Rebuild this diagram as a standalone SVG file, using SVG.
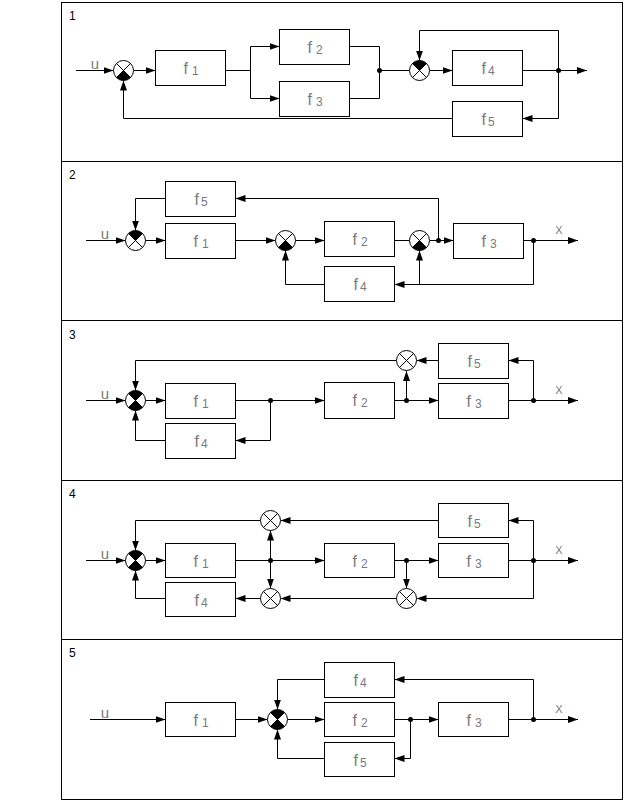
<svg xmlns="http://www.w3.org/2000/svg" width="624" height="801" viewBox="0 0 624 801">
<style>
.box{fill:#fff;stroke:#000;stroke-width:1}
.ln{fill:none;stroke:#000;stroke-width:1}
.ar{fill:none;stroke:#000;stroke-width:1;marker-end:url(#ah)}
.sj{fill:#fff;stroke:#000;stroke-width:1}
.x{stroke:#000;stroke-width:1}
.blk{fill:#000}
.dot{fill:#000}
.lbl{font-family:"Liberation Sans",Arial,sans-serif;font-size:16px;fill:#7a7a7a}
.sub{font-size:12px}
.io{font-family:"Liberation Sans",Arial,sans-serif;font-size:15px;fill:#7a7a7a}
.xo{font-family:"Liberation Sans",Arial,sans-serif;font-size:11px;fill:#7a7a7a}
.num{font-family:"Liberation Sans",Arial,sans-serif;font-size:12px;fill:#000}
.frame{fill:none;stroke:#000;stroke-width:1}
</style>
<defs>
<marker id="ah" markerUnits="userSpaceOnUse" markerWidth="11" markerHeight="8" refX="10" refY="3.5" orient="auto">
<path d="M0,0 L10,3.5 L0,7 z" fill="#000"/>
</marker>
<g id="sum">
<circle class="sj" cx="0" cy="0" r="10"/>
<line class="x" x1="-7.07" y1="-7.07" x2="7.07" y2="7.07"/>
<line class="x" x1="-7.07" y1="7.07" x2="7.07" y2="-7.07"/>
</g>
<path id="qtop" class="blk" d="M0,0 L-7.07,-7.07 A10,10 0 0 1 7.07,-7.07 Z"/>
<path id="qbot" class="blk" d="M0,0 L7.07,7.07 A10,10 0 0 1 -7.07,7.07 Z"/>
</defs>
<rect width="624" height="801" fill="#fff"/>
<g id="frame">
<rect class="frame" x="61.5" y="2.5" width="561" height="797"/>
<line class="ln" x1="61.5" y1="161.5" x2="622.5" y2="161.5"/>
<line class="ln" x1="61.5" y1="320.5" x2="622.5" y2="320.5"/>
<line class="ln" x1="61.5" y1="480.5" x2="622.5" y2="480.5"/>
<line class="ln" x1="61.5" y1="639.5" x2="622.5" y2="639.5"/>
<text class="num" x="69" y="20">1</text>
<text class="num" x="69" y="179">2</text>
<text class="num" x="69" y="339">3</text>
<text class="num" x="69" y="498">4</text>
<text class="num" x="69" y="657">5</text>
</g>

<!-- Panel 1 -->
<g id="p1-connectors">
<polyline class="ar" points="76,70.5 113.5,70.5"/>
<polyline class="ar" points="133.5,70.5 155.5,70.5"/>
<polyline class="ln" points="225.5,70.5 250.5,70.5"/>
<polyline class="ln" points="250.5,46.5 250.5,98.5"/>
<polyline class="ar" points="250.5,46.5 279.5,46.5"/>
<polyline class="ar" points="250.5,98.5 279.5,98.5"/>
<polyline class="ln" points="349.5,46.5 379.5,46.5 379.5,98.5 349.5,98.5"/>
<polyline class="ln" points="379.5,70.5 409.5,70.5"/>
<polyline class="ar" points="429.5,70.5 452.5,70.5"/>
<polyline class="ar" points="558.5,70.5 558.5,30.5 419.5,30.5 419.5,60.5"/>
<polyline class="ar" points="522.5,70.5 587,70.5"/>
<polyline class="ar" points="558.5,70.5 558.5,118.5 522.5,118.5"/>
<polyline class="ar" points="452.5,118.5 123.5,118.5 123.5,80.5"/>
<circle class="dot" cx="379.5" cy="70.5" r="2.5"/>
<circle class="dot" cx="558.5" cy="70.5" r="2.5"/>
<text class="io" x="95" y="69" text-anchor="middle">u</text>
</g>
<g id="p1-s1" transform="translate(123.5,70.5)"><use href="#sum"/><use href="#qbot"/></g>
<g id="p1-s2" transform="translate(419.5,70.5)"><use href="#sum"/><use href="#qtop"/></g>
<g id="p1-f1"><rect class="box" x="155.5" y="50.5" width="70" height="35"/><text class="lbl" x="191" y="74" text-anchor="middle">f<tspan class="sub" dx="4" dy="1">1</tspan></text></g>
<g id="p1-f2"><rect class="box" x="279.5" y="29.5" width="70" height="35"/><text class="lbl" x="315" y="53" text-anchor="middle">f<tspan class="sub" dx="4" dy="1">2</tspan></text></g>
<g id="p1-f3"><rect class="box" x="279.5" y="81.5" width="70" height="35"/><text class="lbl" x="315" y="105" text-anchor="middle">f<tspan class="sub" dx="4" dy="1">3</tspan></text></g>
<g id="p1-f4"><rect class="box" x="452.5" y="50.5" width="70" height="35"/><text class="lbl" x="488" y="74" text-anchor="middle">f<tspan class="sub" dx="2" dy="1">4</tspan></text></g>
<g id="p1-f5"><rect class="box" x="452.5" y="101.5" width="70" height="35"/><text class="lbl" x="488" y="125" text-anchor="middle">f<tspan class="sub" dx="2" dy="1">5</tspan></text></g>

<!-- Panel 2 -->
<g id="p2-connectors">
<polyline class="ar" points="86,240.5 125.5,240.5"/>
<polyline class="ar" points="145.5,240.5 165.5,240.5"/>
<polyline class="ar" points="235.5,240.5 275.5,240.5"/>
<polyline class="ar" points="295.5,240.5 324.5,240.5"/>
<polyline class="ln" points="394.5,240.5 409.5,240.5"/>
<polyline class="ar" points="429.5,240.5 453.5,240.5"/>
<polyline class="ar" points="523.5,240.5 578,240.5"/>
<polyline class="ar" points="533.5,240.5 533.5,284.5 394.5,284.5"/>
<polyline class="ar" points="419.5,284.5 419.5,250.5"/>
<polyline class="ar" points="324.5,284.5 285.5,284.5 285.5,250.5"/>
<polyline class="ar" points="438.5,240.5 438.5,198.5 235.5,198.5"/>
<polyline class="ar" points="165.5,198.5 135.5,198.5 135.5,230.5"/>
<circle class="dot" cx="438.5" cy="240.5" r="2.5"/>
<circle class="dot" cx="533.5" cy="240.5" r="2.5"/>
<text class="io" x="105" y="239" text-anchor="middle">u</text>
<text class="xo" x="559" y="234" text-anchor="middle">X</text>
</g>
<g id="p2-s1" transform="translate(135.5,240.5)"><use href="#sum"/><use href="#qtop"/></g>
<g id="p2-s2" transform="translate(285.5,240.5)"><use href="#sum"/><use href="#qbot"/></g>
<g id="p2-s3" transform="translate(419.5,240.5)"><use href="#sum"/><use href="#qbot"/></g>
<g id="p2-f5"><rect class="box" x="165.5" y="181.5" width="70" height="35"/><text class="lbl" x="201" y="205" text-anchor="middle">f<tspan class="sub" dx="2" dy="1">5</tspan></text></g>
<g id="p2-f1"><rect class="box" x="165.5" y="223.5" width="70" height="35"/><text class="lbl" x="201" y="247" text-anchor="middle">f<tspan class="sub" dx="4" dy="1">1</tspan></text></g>
<g id="p2-f2"><rect class="box" x="324.5" y="221.5" width="70" height="35"/><text class="lbl" x="360" y="245" text-anchor="middle">f<tspan class="sub" dx="4" dy="1">2</tspan></text></g>
<g id="p2-f3"><rect class="box" x="453.5" y="223.5" width="70" height="35"/><text class="lbl" x="489" y="247" text-anchor="middle">f<tspan class="sub" dx="4" dy="1">3</tspan></text></g>
<g id="p2-f4"><rect class="box" x="324.5" y="266.5" width="70" height="35"/><text class="lbl" x="360" y="290" text-anchor="middle">f<tspan class="sub" dx="2" dy="1">4</tspan></text></g>

<!-- Panel 3 -->
<g id="p3-connectors">
<polyline class="ar" points="86,400.5 125.5,400.5"/>
<polyline class="ar" points="145.5,400.5 165.5,400.5"/>
<polyline class="ar" points="235.5,400.5 324.5,400.5"/>
<polyline class="ar" points="270.5,400.5 270.5,440.5 235.5,440.5"/>
<polyline class="ar" points="165.5,440.5 135.5,440.5 135.5,410.5"/>
<polyline class="ar" points="394.5,400.5 438.5,400.5"/>
<polyline class="ar" points="406.5,400.5 406.5,371"/>
<polyline class="ar" points="508.5,400.5 578,400.5"/>
<polyline class="ar" points="533.5,400.5 533.5,360.5 508.5,360.5"/>
<polyline class="ar" points="438.5,360.5 416.5,360.5"/>
<polyline class="ar" points="396.5,360.5 135.5,360.5 135.5,390.5"/>
<circle class="dot" cx="270.5" cy="400.5" r="2.5"/>
<circle class="dot" cx="406.5" cy="400.5" r="2.5"/>
<circle class="dot" cx="533.5" cy="400.5" r="2.5"/>
<text class="io" x="105" y="399" text-anchor="middle">u</text>
<text class="xo" x="559" y="394" text-anchor="middle">X</text>
</g>
<g id="p3-s1" transform="translate(135.5,400.5)"><use href="#sum"/><use href="#qtop"/><use href="#qbot"/></g>
<g id="p3-m1" transform="translate(406.5,360.5)"><use href="#sum"/></g>
<g id="p3-f1"><rect class="box" x="165.5" y="383.5" width="70" height="35"/><text class="lbl" x="201" y="407" text-anchor="middle">f<tspan class="sub" dx="4" dy="1">1</tspan></text></g>
<g id="p3-f4"><rect class="box" x="165.5" y="423.5" width="70" height="35"/><text class="lbl" x="201" y="447" text-anchor="middle">f<tspan class="sub" dx="2" dy="1">4</tspan></text></g>
<g id="p3-f2"><rect class="box" x="324.5" y="382.5" width="70" height="36"/><text class="lbl" x="360" y="406" text-anchor="middle">f<tspan class="sub" dx="4" dy="1">2</tspan></text></g>
<g id="p3-f3"><rect class="box" x="438.5" y="383.5" width="70" height="35"/><text class="lbl" x="474" y="407" text-anchor="middle">f<tspan class="sub" dx="4" dy="1">3</tspan></text></g>
<g id="p3-f5"><rect class="box" x="438.5" y="343.5" width="70" height="35"/><text class="lbl" x="474" y="367" text-anchor="middle">f<tspan class="sub" dx="2" dy="1">5</tspan></text></g>

<!-- Panel 4 -->
<g id="p4-connectors">
<polyline class="ar" points="86,560.5 125.5,560.5"/>
<polyline class="ar" points="145.5,560.5 165.5,560.5"/>
<polyline class="ar" points="235.5,560.5 324.5,560.5"/>
<polyline class="ar" points="270.5,560.5 270.5,530.5"/>
<polyline class="ar" points="270.5,560.5 270.5,588.5"/>
<polyline class="ar" points="394.5,560.5 438.5,560.5"/>
<polyline class="ar" points="406.5,560.5 406.5,588.5"/>
<polyline class="ar" points="508.5,560.5 578,560.5"/>
<polyline class="ar" points="533.5,560.5 533.5,520.5 508.5,520.5"/>
<polyline class="ar" points="533.5,560.5 533.5,598.5 416.5,598.5"/>
<polyline class="ar" points="438.5,520.5 280.5,520.5"/>
<polyline class="ar" points="260.5,520.5 135.5,520.5 135.5,550.5"/>
<polyline class="ar" points="396.5,598.5 280.5,598.5"/>
<polyline class="ar" points="260.5,598.5 235.5,598.5"/>
<polyline class="ar" points="165.5,598.5 135.5,598.5 135.5,570.5"/>
<circle class="dot" cx="270.5" cy="560.5" r="2.5"/>
<circle class="dot" cx="406.5" cy="560.5" r="2.5"/>
<circle class="dot" cx="533.5" cy="560.5" r="2.5"/>
<text class="io" x="105" y="559" text-anchor="middle">u</text>
<text class="xo" x="559" y="554" text-anchor="middle">X</text>
</g>
<g id="p4-s1" transform="translate(135.5,560.5)"><use href="#sum"/><use href="#qtop"/><use href="#qbot"/></g>
<g id="p4-m1" transform="translate(270.5,520.5)"><use href="#sum"/></g>
<g id="p4-m2" transform="translate(270.5,598.5)"><use href="#sum"/></g>
<g id="p4-m3" transform="translate(406.5,598.5)"><use href="#sum"/></g>
<g id="p4-f1"><rect class="box" x="165.5" y="543.5" width="70" height="34"/><text class="lbl" x="201" y="567" text-anchor="middle">f<tspan class="sub" dx="4" dy="1">1</tspan></text></g>
<g id="p4-f4"><rect class="box" x="165.5" y="582.5" width="70" height="34"/><text class="lbl" x="201" y="606" text-anchor="middle">f<tspan class="sub" dx="2" dy="1">4</tspan></text></g>
<g id="p4-f2"><rect class="box" x="324.5" y="543.5" width="70" height="34"/><text class="lbl" x="360" y="567" text-anchor="middle">f<tspan class="sub" dx="4" dy="1">2</tspan></text></g>
<g id="p4-f3"><rect class="box" x="438.5" y="543.5" width="70" height="34"/><text class="lbl" x="474" y="567" text-anchor="middle">f<tspan class="sub" dx="4" dy="1">3</tspan></text></g>
<g id="p4-f5"><rect class="box" x="438.5" y="503.5" width="70" height="34"/><text class="lbl" x="474" y="527" text-anchor="middle">f<tspan class="sub" dx="2" dy="1">5</tspan></text></g>

<!-- Panel 5 -->
<g id="p5-connectors">
<polyline class="ar" points="90,719.5 165.5,719.5"/>
<polyline class="ar" points="235.5,719.5 267.5,719.5"/>
<polyline class="ar" points="287.5,719.5 324.5,719.5"/>
<polyline class="ar" points="394.5,719.5 438.5,719.5"/>
<polyline class="ar" points="410.5,719.5 410.5,758.5 394.5,758.5"/>
<polyline class="ar" points="324.5,758.5 277.5,758.5 277.5,729.5"/>
<polyline class="ar" points="508.5,719.5 578,719.5"/>
<polyline class="ar" points="533.5,719.5 533.5,679.5 394.5,679.5"/>
<polyline class="ar" points="324.5,679.5 277.5,679.5 277.5,709.5"/>
<circle class="dot" cx="410.5" cy="719.5" r="2.5"/>
<circle class="dot" cx="533.5" cy="719.5" r="2.5"/>
<text class="io" x="105" y="718" text-anchor="middle">u</text>
<text class="xo" x="559" y="713" text-anchor="middle">X</text>
</g>
<g id="p5-s1" transform="translate(277.5,719.5)"><use href="#sum"/><use href="#qtop"/><use href="#qbot"/></g>
<g id="p5-f1"><rect class="box" x="165.5" y="702.5" width="70" height="34"/><text class="lbl" x="201" y="726" text-anchor="middle">f<tspan class="sub" dx="4" dy="1">1</tspan></text></g>
<g id="p5-f4"><rect class="box" x="324.5" y="662.5" width="70" height="35"/><text class="lbl" x="360" y="686" text-anchor="middle">f<tspan class="sub" dx="2" dy="1">4</tspan></text></g>
<g id="p5-f2"><rect class="box" x="324.5" y="702.5" width="70" height="34"/><text class="lbl" x="360" y="726" text-anchor="middle">f<tspan class="sub" dx="4" dy="1">2</tspan></text></g>
<g id="p5-f5"><rect class="box" x="324.5" y="742.5" width="70" height="34"/><text class="lbl" x="360" y="766" text-anchor="middle">f<tspan class="sub" dx="2" dy="1">5</tspan></text></g>
<g id="p5-f3"><rect class="box" x="438.5" y="702.5" width="70" height="34"/><text class="lbl" x="474" y="726" text-anchor="middle">f<tspan class="sub" dx="4" dy="1">3</tspan></text></g>
</svg>
